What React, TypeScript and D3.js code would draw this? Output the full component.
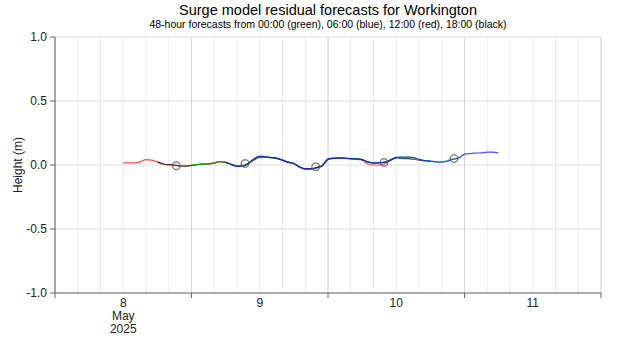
import React from "react";
import * as d3 from "d3";

const TITLE = "Surge model residual forecasts for Workington";
const SUBTITLE = "48-hour forecasts from 00:00 (green), 06:00 (blue), 12:00 (red), 18:00 (black)";
const Y_LABEL = "Height (m)";

const START = new Date(2025, 4, 8, 0, 0);
const END = new Date(2025, 4, 12, 0, 0);

const yTicks = [1.0, 0.5, 0.0, -0.5, -1.0];
const dayLabels = [
  { day: new Date(2025, 4, 8, 12), lines: ["8", "May", "2025"] },
  { day: new Date(2025, 4, 9, 12), lines: ["9"] },
  { day: new Date(2025, 4, 10, 12), lines: ["10"] },
  { day: new Date(2025, 4, 11, 12), lines: ["11"] },
];

// hourly values, each starting at the forecast issue time
const redStart = new Date(2025, 4, 8, 12);
const redValues = [
  0.016, 0.016, 0.016, 0.025, 0.042, 0.038, 0.025, 0.008, 0.002, 0.0, -0.008, -0.008,
  -0.003, 0.004, 0.008, 0.009, 0.015, 0.026, 0.02, 0.004, -0.008, -0.007, 0.01, 0.04,
  0.058, 0.06, 0.058, 0.05, 0.036, 0.022, 0.012, -0.016, -0.03, -0.03, -0.02, -0.006,
  0.044, 0.052, 0.054, 0.052, 0.048, 0.045, 0.038, 0.008, 0.0, 0.0, 0.01, 0.038, 0.058,
];
const blackStart = new Date(2025, 4, 8, 18);
const blackValues = [
  0.022, 0.008, 0.002, 0.0, -0.008, -0.009, -0.004, 0.003, 0.007, 0.009, 0.014, 0.027,
  0.021, 0.004, -0.009, -0.007, 0.011, 0.043, 0.064, 0.062, 0.057, 0.052, 0.037, 0.021,
  0.011, -0.015, -0.03, -0.031, -0.021, -0.005, 0.045, 0.052, 0.055, 0.052, 0.05, 0.047,
  0.042, 0.024, 0.014, 0.016, 0.02, 0.036, 0.055, 0.05, 0.05, 0.045, 0.038, 0.032, 0.028,
];
const greenStart = new Date(2025, 4, 9, 0);
const greenValues = [
  -0.003, 0.005, 0.008, 0.01, 0.016, 0.029, 0.022, 0.005, -0.008, -0.006, 0.012, 0.044,
  0.064, 0.062, 0.058, 0.053, 0.038, 0.022, 0.01, -0.02, -0.035, -0.035, -0.022, 0.0,
  0.048, 0.054, 0.056, 0.053, 0.05, 0.048, 0.042, 0.025, 0.016, 0.018, 0.022, 0.04,
  0.06, 0.062, 0.062, 0.058, 0.045, 0.035, 0.03, 0.025, 0.027, 0.035, 0.048, 0.056, 0.085,
];
const blueStart = new Date(2025, 4, 9, 6);
const blueValues = [
  0.022, 0.005, -0.01, -0.008, 0.012, 0.05, 0.07, 0.066, 0.06, 0.054, 0.038, 0.022,
  0.012, -0.015, -0.03, -0.03, -0.02, -0.005, 0.045, 0.052, 0.055, 0.052, 0.05, 0.048,
  0.042, 0.025, 0.016, 0.018, 0.022, 0.04, 0.06, 0.062, 0.062, 0.058, 0.045, 0.035,
  0.03, 0.025, 0.022, 0.03, 0.045, 0.055, 0.085, 0.09, 0.093, 0.095, 0.1, 0.1, 0.094,
];

// high-water markers
const hwTimes = [
  new Date(2025, 4, 8, 21, 20),
  new Date(2025, 4, 9, 9, 25),
  new Date(2025, 4, 9, 21, 50),
  new Date(2025, 4, 10, 9, 50),
  new Date(2025, 4, 10, 22, 10),
];
const hwValues = [-0.006, 0.012, -0.014, 0.02, 0.05];

const series = [
  { start: redStart, values: redValues, color: "#ff0000" },
  { start: blackStart, values: blackValues, color: "#000000" },
  { start: greenStart, values: greenValues, color: "#00dd00" },
  { start: blueStart, values: blueValues, color: "#0000ff" },
];

const W = 620;
const H = 350;
const M = { left: 55, right: 19, top: 37, bottom: 57 };

export default function App() {
  const x = d3.scaleTime().domain([START, END]).range([M.left, W - M.right]);
  const y = d3.scaleLinear().domain([-1, 1]).range([H - M.bottom, M.top]);
  const font = "'Liberation Sans', Arial, sans-serif";

  const minor = d3.timeHour.every(4)!.range(START, d3.timeHour.offset(END, 1));
  const major = d3.timeDay.range(START, d3.timeHour.offset(END, 1));

  const line = d3
    .line<{ t: Date; v: number }>()
    .x((d) => x(d.t))
    .y((d) => y(d.v))
    .curve(d3.curveMonotoneX);

  return (
    <svg
      width={W}
      height={H}
      style={{ position: "absolute", left: 0, top: 0, background: "#fff" }}
      fontFamily={font}
    >
      <text x={(M.left + W - M.right) / 2} y={15} textAnchor="middle" fontSize={14.5} fill="#000">
        {TITLE}
      </text>
      <text x={(M.left + W - M.right) / 2} y={27.5} textAnchor="middle" fontSize={10.5} fill="#000">
        {SUBTITLE}
      </text>

      {minor.map((t, i) => (
        <line key={"mn" + i} x1={x(t)} x2={x(t)} y1={y(1)} y2={y(-1)} stroke="#ebebeb" strokeWidth={1} />
      ))}
      {major.map((t, i) => (
        <line key={"mj" + i} x1={x(t)} x2={x(t)} y1={y(1)} y2={y(-1)} stroke="#d6d6d6" strokeWidth={1} />
      ))}
      {yTicks.map((v, i) => (
        <line key={"hg" + i} x1={M.left} x2={W - M.right} y1={y(v)} y2={y(v)} stroke="#dedede" strokeWidth={1} />
      ))}

      {series.map((s, i) => {
        const pts = s.values.map((v, k) => ({ t: d3.timeHour.offset(s.start, k), v }));
        return (
          <path
            key={"s" + i}
            d={line(pts) || ""}
            fill="none"
            stroke={s.color}
            strokeWidth={1.2}
            strokeOpacity={0.7}
          />
        );
      })}

      {hwTimes.map((t, i) => (
        <circle
          key={"hw" + i}
          cx={x(t)}
          cy={y(hwValues[i])}
          r={3.8}
          fill="none"
          stroke="#555"
          strokeOpacity={0.7}
          strokeWidth={1.5}
        />
      ))}

      {/* y axis */}
      <line x1={M.left} x2={M.left} y1={y(1)} y2={y(-1)} stroke="#666" strokeWidth={1} />
      {yTicks.map((v, i) => (
        <g key={"yt" + i}>
          <line x1={M.left - 5} x2={M.left} y1={y(v)} y2={y(v)} stroke="#666" />
          <text x={M.left - 8} y={y(v) + 4} textAnchor="end" fontSize={12} fill="#222">
            {v.toFixed(1)}
          </text>
        </g>
      ))}
      <text
        transform={`translate(22,${y(0)}) rotate(-90)`}
        textAnchor="middle"
        fontSize={12}
        fill="#222"
      >
        {Y_LABEL}
      </text>

      {/* x axis */}
      <line x1={M.left} x2={W - M.right} y1={y(-1)} y2={y(-1)} stroke="#666" strokeWidth={1} />
      {major.map((t, i) => (
        <line key={"xt" + i} x1={x(t)} x2={x(t)} y1={y(-1)} y2={y(-1) + 5} stroke="#666" />
      ))}
      {dayLabels.map((d, i) => (
        <text key={"xl" + i} textAnchor="middle" fontSize={12} fill="#222">
          {d.lines.map((l, k) => (
            <tspan key={k} x={x(d.day)} y={y(-1) + 14 + k * 13}>
              {l}
            </tspan>
          ))}
        </text>
      ))}
    </svg>
  );
}
